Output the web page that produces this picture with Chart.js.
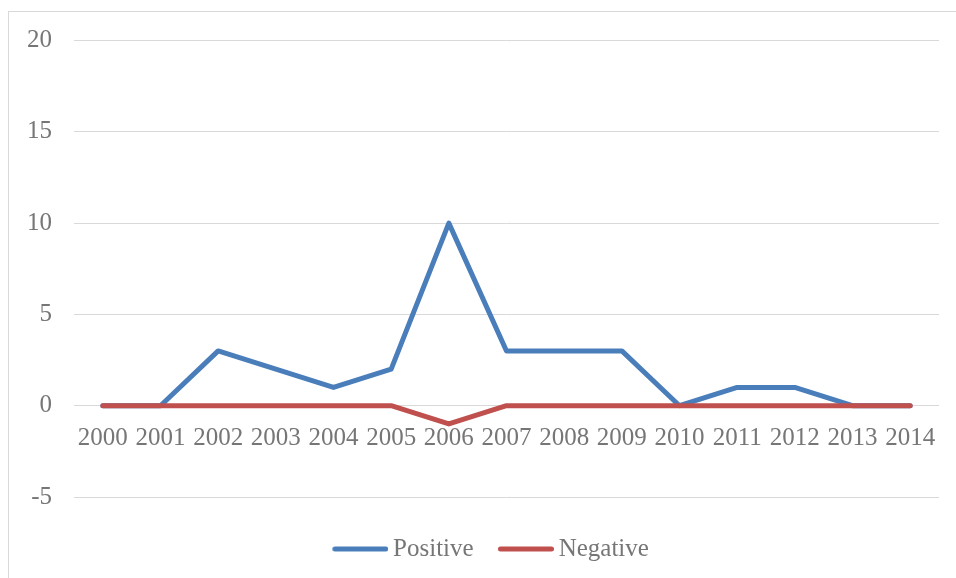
<!DOCTYPE html>
<html>
<head>
<meta charset="utf-8">
<script src="https://cdn.jsdelivr.net/npm/chart.js@4/dist/chart.umd.min.js"></script>
<style>
  html, body { margin: 0; padding: 0; background: #ffffff; overflow: hidden; }
  #frame {
    position: absolute; left: 8px; top: 11px; width: 2000px; height: 2000px;
    border-left: 1px solid #d9d9d9; border-top: 1px solid #d9d9d9;
  }
  #wrap { position: absolute; left: 0; top: 0; width: 956px; height: 578px; }
</style>
</head>
<body>
<div id="frame"></div>
<div id="wrap"><canvas id="chart" width="956" height="578"></canvas></div>
<script>
// Years on the category axis
const years = ['2000', '2001', '2002', '2003', '2004', '2005', '2006', '2007',
               '2008', '2009', '2010', '2011', '2012', '2013', '2014'];

// Yearly counts per series
const positive = [0, 0, 3, 2, 1, 2, 10, 3, 3, 3, 0, 1, 1, 0, 0];
const negative = [0, 0, 0, 0, 0, 0, -1, 0, 0, 0, 0, 0, 0, 0, 0];

// Value axis range and step
const yMin = -5;
const yMax = 20;
const yStep = 5;

const BLUE = '#4a7ebb';
const RED = '#c0504d';
const TEXT = '#767676';
const GRID = '#d9d9d9';
const FONT = 'Liberation Serif';
const FONT_SIZE = 25;

// Legend swatch: a short round-capped line, offset so the label sits close to it
function swatch(color) {
  const c = document.createElement('canvas');
  c.width = 64;
  c.height = 10;
  const g = c.getContext('2d');
  g.strokeStyle = color;
  g.lineWidth = 5;
  g.lineCap = 'round';
  g.beginPath();
  g.moveTo(10.5, 5);
  g.lineTo(61.5, 5);
  g.stroke();
  return c;
}

// Nudge the legend row a little to the right of the centre
const legendShift = {
  id: 'legendShift',
  afterLayout(chart) {
    if (chart.legend) {
      chart.legend.left += 17;
      chart.legend.right += 17;
    }
  }
};

new Chart(document.getElementById('chart'), {
  type: 'line',
  data: {
    labels: years,
    datasets: [
      {
        label: 'Positive',
        data: positive,
        borderColor: BLUE,
        backgroundColor: BLUE,
        borderWidth: 5,
        borderCapStyle: 'round',
        borderJoinStyle: 'round',
        pointRadius: 0,
        pointHoverRadius: 0,
        pointStyle: swatch(BLUE),
        tension: 0,
        order: 1
      },
      {
        label: 'Negative',
        data: negative,
        borderColor: RED,
        backgroundColor: RED,
        borderWidth: 5,
        borderCapStyle: 'round',
        borderJoinStyle: 'round',
        pointRadius: 0,
        pointHoverRadius: 0,
        pointStyle: swatch(RED),
        tension: 0,
        order: 0
      }
    ]
  },
  options: {
    responsive: false,
    animation: false,
    devicePixelRatio: 1,
    layout: {
      padding: { left: 8, right: 17, top: 40.5, bottom: 6.5 }
    },
    scales: {
      x: {
        type: 'category',
        offset: true,
        position: { y: 0 },
        grid: { display: false, drawTicks: false },
        border: { display: false },
        ticks: {
          color: TEXT,
          padding: 17.5,
          maxRotation: 0,
          autoSkip: false,
          font: { family: FONT, size: FONT_SIZE }
        }
      },
      y: {
        min: yMin,
        max: yMax,
        afterFit: (scale) => { scale.width = 66; },
        grid: { color: GRID, lineWidth: 1, drawTicks: false },
        border: { display: false },
        ticks: {
          stepSize: yStep,
          color: TEXT,
          padding: 22,
          font: { family: FONT, size: FONT_SIZE }
        }
      }
    },
    plugins: {
      tooltip: { enabled: false },
      legend: {
        position: 'bottom',
        title: { display: true, text: '', padding: 0, font: { size: 10, lineHeight: 1.55 } },
        labels: {
          usePointStyle: true,
          pointStyleWidth: 48.5,
          padding: 24,
          color: TEXT,
          font: { family: FONT, size: FONT_SIZE },
          sort: (a, b) => a.datasetIndex - b.datasetIndex
        }
      }
    }
  },
  plugins: [legendShift]
});
</script>
</body>
</html>
